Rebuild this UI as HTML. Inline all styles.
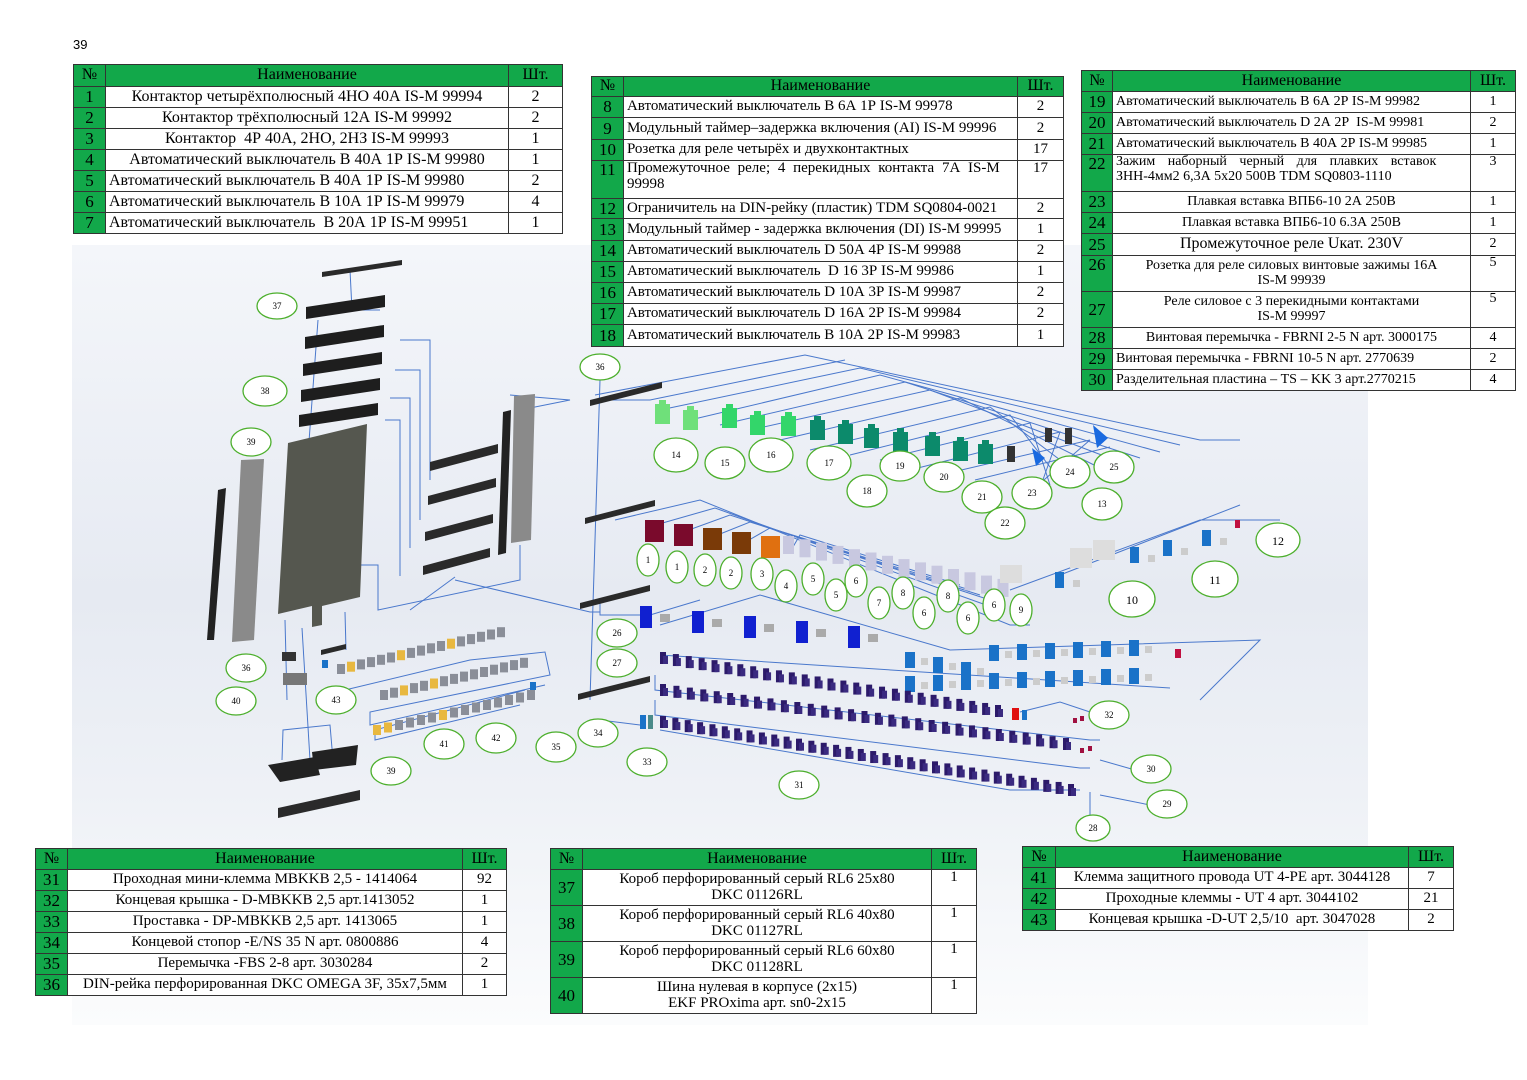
<!DOCTYPE html>
<html><head><meta charset="utf-8"><style>
*{margin:0;padding:0;box-sizing:border-box}
body{width:1527px;height:1080px;background:#fff;position:relative;overflow:hidden;font-family:"Liberation Serif",serif;color:#000}
.bg{position:absolute;left:72px;top:245px;width:1296px;height:780px;background:linear-gradient(180deg,#f4f6fa 0%,#e6eaf2 45%,#eef1f6 70%,#fbfcfd 100%)}
table{position:absolute;border-collapse:collapse;background:#fff;font-size:15px;line-height:1.05}
td{border:1px solid #333;text-align:center;vertical-align:middle;padding:0 3px}
td.n{background:#12a84a;font-size:17px;padding:0}
tr.h td{background:#12a84a;font-size:16px}
td.l{text-align:left}
svg{position:absolute;left:0;top:0}
</style></head><body>
<div class="bg"></div>
<div style="position:absolute;left:73px;top:37px;font-size:13px;font-family:'Liberation Sans',sans-serif">39</div>

<table style="left:73px;top:64px;width:490px;font-size:16px">
<colgroup><col style="width:32px"><col style="width:404px"><col style="width:54px"></colgroup>
<tr class="h" style="height:22px"><td>№</td><td>Наименование</td><td>Шт.</td></tr>
<tr style="height:21px"><td class="n">1</td><td>Контактор четырёхполюсный 4НО 40А IS-M 99994</td><td>2</td></tr>
<tr style="height:21px"><td class="n">2</td><td>Контактор трёхполюсный 12А IS-M 99992</td><td>2</td></tr>
<tr style="height:21px"><td class="n">3</td><td>Контактор &nbsp;4Р 40А, 2НО, 2НЗ IS-M 99993</td><td>1</td></tr>
<tr style="height:21px"><td class="n">4</td><td>Автоматический выключатель В 40А 1Р IS-M 99980</td><td>1</td></tr>
<tr style="height:21px"><td class="n">5</td><td class="l">Автоматический выключатель В 40А 1Р IS-M 99980</td><td>2</td></tr>
<tr style="height:21px"><td class="n">6</td><td class="l">Автоматический выключатель В 10А 1Р IS-M 99979</td><td>4</td></tr>
<tr style="height:21px"><td class="n">7</td><td class="l">Автоматический выключатель &nbsp;В 20А 1Р IS-M 99951</td><td>1</td></tr>
</table>

<table style="left:591px;top:76px;width:473px">
<colgroup><col style="width:32px"><col style="width:395px"><col style="width:46px"></colgroup>
<tr class="h" style="height:20px"><td>№</td><td>Наименование</td><td>Шт.</td></tr>
<tr style="height:21px"><td class="n">8</td><td class="l">Автоматический выключатель В 6А 1Р IS-M 99978</td><td>2</td></tr>
<tr style="height:22px"><td class="n">9</td><td class="l">Модульный таймер–задержка включения (AI) IS-M 99996</td><td>2</td></tr>
<tr style="height:21px"><td class="n">10</td><td class="l">Розетка для реле четырёх и двухконтактных</td><td>17</td></tr>
<tr style="height:38px"><td class="n" style="vertical-align:top">11</td><td class="l" style="vertical-align:top;word-spacing:4px">Промежуточное реле; 4 перекидных контакта 7А IS-M<br>99998</td><td style="vertical-align:top">17</td></tr>
<tr style="height:20px"><td class="n">12</td><td class="l">Ограничитель на DIN-рейку (пластик) TDM SQ0804-0021</td><td>2</td></tr>
<tr style="height:22px"><td class="n">13</td><td class="l">Модульный таймер - задержка включения (DI) IS-M 99995</td><td>1</td></tr>
<tr style="height:21px"><td class="n">14</td><td class="l">Автоматический выключатель D 50А 4Р IS-M 99988</td><td>2</td></tr>
<tr style="height:21px"><td class="n">15</td><td class="l">Автоматический выключатель &nbsp;D 16 3Р IS-M 99986</td><td>1</td></tr>
<tr style="height:21px"><td class="n">16</td><td class="l">Автоматический выключатель D 10А 3Р IS-M 99987</td><td>2</td></tr>
<tr style="height:21px"><td class="n">17</td><td class="l">Автоматический выключатель D 16А 2Р IS-M 99984</td><td>2</td></tr>
<tr style="height:22px"><td class="n">18</td><td class="l">Автоматический выключатель В 10А 2Р IS-M 99983</td><td>1</td></tr>
</table>

<table style="left:1081px;top:70px;width:435px;font-size:14px">
<colgroup><col style="width:31px"><col style="width:359px"><col style="width:45px"></colgroup>
<tr class="h" style="height:21px"><td>№</td><td>Наименование</td><td>Шт.</td></tr>
<tr style="height:21px"><td class="n">19</td><td class="l">Автоматический выключатель В 6А 2Р IS-M 99982</td><td>1</td></tr>
<tr style="height:21px"><td class="n">20</td><td class="l">Автоматический выключатель D 2А 2Р &nbsp;IS-M 99981</td><td>2</td></tr>
<tr style="height:21px"><td class="n">21</td><td class="l">Автоматический выключатель В 40А 2Р IS-M 99985</td><td>1</td></tr>
<tr style="height:37px"><td class="n" style="vertical-align:top">22</td><td class="l" style="vertical-align:top;word-spacing:9px">Зажим наборный черный для плавких вставок<br><span style="word-spacing:0">ЗНН-4мм2 6,3А 5х20 500В TDM SQ0803-1110</span></td><td style="vertical-align:top">3</td></tr>
<tr style="height:21px"><td class="n">23</td><td>Плавкая вставка ВПБ6-10 2А 250В</td><td>1</td></tr>
<tr style="height:21px"><td class="n">24</td><td>Плавкая вставка ВПБ6-10 6.3А 250В</td><td>1</td></tr>
<tr style="height:22px"><td class="n">25</td><td style="font-size:16px">Промежуточное реле Uкат. 230V</td><td>2</td></tr>
<tr style="height:36px"><td class="n" style="vertical-align:top">26</td><td>Розетка для реле силовых винтовые зажимы 16А<br>IS-M 99939</td><td style="vertical-align:top">5</td></tr>
<tr style="height:36px"><td class="n">27</td><td>Реле силовое с 3 перекидными контактами<br>IS-M 99997</td><td style="vertical-align:top">5</td></tr>
<tr style="height:21px"><td class="n">28</td><td>Винтовая перемычка - FBRNI 2-5 N арт. 3000175</td><td>4</td></tr>
<tr style="height:21px"><td class="n">29</td><td class="l">Винтовая перемычка - FBRNI 10-5 N арт. 2770639</td><td>2</td></tr>
<tr style="height:21px"><td class="n">30</td><td class="l">Разделительная пластина – TS – KK 3 арт.2770215</td><td>4</td></tr>
</table>

<table style="left:35px;top:848px;width:472px">
<colgroup><col style="width:32px"><col style="width:396px"><col style="width:44px"></colgroup>
<tr class="h" style="height:21px"><td>№</td><td>Наименование</td><td>Шт.</td></tr>
<tr style="height:21px"><td class="n">31</td><td>Проходная мини-клемма MBKKB 2,5 - 1414064</td><td>92</td></tr>
<tr style="height:21px"><td class="n">32</td><td>Концевая крышка - D-MBKKB 2,5 арт.1413052</td><td>1</td></tr>
<tr style="height:21px"><td class="n">33</td><td>Проставка - DP-MBKKB 2,5 арт. 1413065</td><td>1</td></tr>
<tr style="height:21px"><td class="n">34</td><td>Концевой стопор -E/NS 35 N арт. 0800886</td><td>4</td></tr>
<tr style="height:21px"><td class="n">35</td><td>Перемычка -FBS 2-8 арт. 3030284</td><td>2</td></tr>
<tr style="height:21px"><td class="n">36</td><td>DIN-рейка перфорированная DKC OMEGA 3F, 35х7,5мм</td><td>1</td></tr>
</table>

<table style="left:550px;top:848px;width:427px">
<colgroup><col style="width:32px"><col style="width:350px"><col style="width:45px"></colgroup>
<tr class="h" style="height:21px"><td>№</td><td>Наименование</td><td>Шт.</td></tr>
<tr style="height:36px"><td class="n">37</td><td>Короб перфорированный серый RL6 25х80<br>DKC 01126RL</td><td style="vertical-align:top">1</td></tr>
<tr style="height:36px"><td class="n">38</td><td>Короб перфорированный серый RL6 40х80<br>DKC 01127RL</td><td style="vertical-align:top">1</td></tr>
<tr style="height:36px"><td class="n">39</td><td>Короб перфорированный серый RL6 60х80<br>DKC 01128RL</td><td style="vertical-align:top">1</td></tr>
<tr style="height:36px"><td class="n">40</td><td>Шина нулевая в корпусе (2х15)<br>EKF PROxima арт. sn0-2х15</td><td style="vertical-align:top">1</td></tr>
</table>

<table style="left:1022px;top:846px;width:432px">
<colgroup><col style="width:33px"><col style="width:354px"><col style="width:45px"></colgroup>
<tr class="h" style="height:21px"><td>№</td><td>Наименование</td><td>Шт.</td></tr>
<tr style="height:21px"><td class="n">41</td><td>Клемма защитного провода UT 4-PE арт. 3044128</td><td>7</td></tr>
<tr style="height:21px"><td class="n">42</td><td>Проходные клеммы - UT 4 арт. 3044102</td><td>21</td></tr>
<tr style="height:21px"><td class="n">43</td><td>Концевая крышка -D-UT 2,5/10 &nbsp;арт. 3047028</td><td>2</td></tr>
</table>

<svg width="1527" height="1080" viewBox="0 0 1527 1080" id="d">
<g stroke="#4a78cc" stroke-width="1" fill="none">
<polyline points="350,270 352,310 380,310"/>
<polyline points="400,340 430,340 430,480"/>
<polyline points="395,370 420,370 420,520"/>
<polyline points="390,398 410,398 410,548"/>
<polyline points="385,420 400,420 400,576"/>
<line x1="318" y1="320" x2="308" y2="455"/>
<polyline points="355,565 378,565 378,610 520,580 520,545"/>
<polyline points="455,577 410,610"/>
<polyline points="455,580 590,612 600,612"/>
<line x1="600" y1="380" x2="590" y2="700"/>
<polyline points="510,395 570,400 520,410"/>
<polyline points="285,620 287,700"/>
<polyline points="302,628 310,760"/>
<polyline points="345,612 346,650"/>
<polyline points="282,760 283,730 330,725 333,760"/>
<polyline points="595,395 805,355 1200,440 1240,440"/>
<polyline points="610,400 650,400 845,360"/>
<polyline points="660,410 860,368 1180,445"/>
<polyline points="690,420 880,375 1160,452"/>
<polyline points="720,425 905,382 1140,458"/>
<polyline points="750,430 930,390 1120,462"/>
<polyline points="780,440 960,398 1100,468"/>
<polyline points="810,450 990,407 1080,475"/>
<polyline points="850,455 1010,415 1060,480"/>
<polyline points="880,460 1030,423 1050,485"/>
<polyline points="910,470 1060,432 1040,488"/>
<polyline points="940,475 1090,440 1030,492"/>
<polyline points="975,480 1110,447"/>
<polyline points="615,520 700,500 1010,625 1030,625"/>
<polyline points="645,528 715,508 1000,610"/>
<polyline points="675,535 730,515 990,600"/>
<polyline points="705,540 750,522 980,595"/>
<polyline points="735,548 770,528 970,590"/>
<polyline points="790,552 800,535 960,585"/>
<polyline points="1010,590 1200,520 1280,520"/>
<polyline points="1060,575 1240,505"/>
<polyline points="600,600 600,615 650,615 700,600"/>
<polyline points="660,625 760,595 950,650 1260,640 1200,700"/>
<polyline points="660,655 1170,688"/>
<polyline points="655,675 655,690 1090,740 1100,740"/>
<polyline points="655,700 655,715 1080,768 1090,768"/>
<polyline points="660,730 1010,790 1080,790"/>
<polyline points="1020,712 1060,702 1090,712"/>
<polyline points="1100,760 1135,770"/>
<polyline points="1100,795 1150,805"/>
<polyline points="1090,792 1090,815"/>
<line x1="640" y1="725" x2="600" y2="720"/>
<polyline points="345,690 470,660 545,652 550,675 370,712 370,725 545,685"/>
<polyline points="525,690 375,730 375,740 520,705"/>
</g>
<g id="comp"></g>
<g fill="#fff" stroke="#4caf2c" stroke-width="1.3">
<ellipse cx="277" cy="306" rx="20" ry="13"/><ellipse cx="265" cy="391" rx="22" ry="15"/><ellipse cx="251" cy="442" rx="20" ry="14"/><ellipse cx="600" cy="367" rx="20" ry="13"/>
<ellipse cx="676" cy="455" rx="22" ry="17"/><ellipse cx="725" cy="463" rx="20" ry="16"/><ellipse cx="771" cy="455" rx="22" ry="17"/><ellipse cx="829" cy="463" rx="22" ry="17"/><ellipse cx="867" cy="491" rx="20" ry="16"/><ellipse cx="900" cy="466" rx="20" ry="15"/><ellipse cx="944" cy="477" rx="20" ry="15"/><ellipse cx="982" cy="497" rx="20" ry="16"/><ellipse cx="1005" cy="523" rx="20" ry="16"/><ellipse cx="1032" cy="493" rx="20" ry="16"/><ellipse cx="1070" cy="472" rx="20" ry="16"/><ellipse cx="1114" cy="467" rx="20" ry="16"/><ellipse cx="1102" cy="504" rx="20" ry="16"/><ellipse cx="1278" cy="540" rx="22" ry="17"/><ellipse cx="1215" cy="579" rx="23" ry="18"/><ellipse cx="1132" cy="599" rx="23" ry="18"/>
<ellipse cx="648" cy="560" rx="11" ry="16"/><ellipse cx="677" cy="567" rx="11" ry="16"/><ellipse cx="705" cy="570" rx="11" ry="16"/><ellipse cx="731" cy="573" rx="11" ry="16"/><ellipse cx="762" cy="574" rx="11" ry="16"/><ellipse cx="786" cy="586" rx="11" ry="16"/><ellipse cx="813" cy="579" rx="11" ry="16"/><ellipse cx="836" cy="595" rx="11" ry="16"/><ellipse cx="856" cy="581" rx="11" ry="16"/><ellipse cx="879" cy="603" rx="11" ry="16"/><ellipse cx="903" cy="593" rx="11" ry="16"/><ellipse cx="924" cy="613" rx="11" ry="16"/><ellipse cx="948" cy="596" rx="11" ry="16"/><ellipse cx="968" cy="618" rx="11" ry="16"/><ellipse cx="994" cy="605" rx="11" ry="16"/><ellipse cx="1021" cy="610" rx="11" ry="16"/>
<ellipse cx="617" cy="633" rx="20" ry="14"/><ellipse cx="617" cy="663" rx="20" ry="14"/><ellipse cx="246" cy="668" rx="20" ry="14"/><ellipse cx="236" cy="701" rx="20" ry="14"/><ellipse cx="336" cy="700" rx="20" ry="14"/><ellipse cx="444" cy="744" rx="20" ry="15"/><ellipse cx="496" cy="738" rx="20" ry="15"/><ellipse cx="556" cy="747" rx="20" ry="15"/><ellipse cx="598" cy="733" rx="20" ry="14"/><ellipse cx="647" cy="762" rx="20" ry="14"/><ellipse cx="799" cy="785" rx="20" ry="14"/><ellipse cx="1109" cy="715" rx="20" ry="14"/><ellipse cx="1151" cy="769" rx="20" ry="14"/><ellipse cx="1167" cy="804" rx="20" ry="14"/><ellipse cx="1093" cy="828" rx="17" ry="13"/><ellipse cx="391" cy="771" rx="20" ry="14"/>
</g>
<g fill="#000" font-family="Liberation Serif,serif" font-size="9" text-anchor="middle">
<text x="277" y="309">37</text><text x="265" y="394">38</text><text x="251" y="445">39</text><text x="600" y="370">36</text>
<text x="676" y="458">14</text><text x="725" y="466">15</text><text x="771" y="458">16</text><text x="829" y="466">17</text><text x="867" y="494">18</text><text x="900" y="469">19</text><text x="944" y="480">20</text><text x="982" y="500">21</text><text x="1005" y="526">22</text><text x="1032" y="496">23</text><text x="1070" y="475">24</text><text x="1114" y="470">25</text><text x="1102" y="507">13</text>
<text x="1278" y="545" font-size="12">12</text><text x="1215" y="584" font-size="12">11</text><text x="1132" y="604" font-size="12">10</text>
<text x="648" y="563">1</text><text x="677" y="570">1</text><text x="705" y="573">2</text><text x="731" y="576">2</text><text x="762" y="577">3</text><text x="786" y="589">4</text><text x="813" y="582">5</text><text x="836" y="598">5</text><text x="856" y="584">6</text><text x="879" y="606">7</text><text x="903" y="596">8</text><text x="924" y="616">6</text><text x="948" y="599">8</text><text x="968" y="621">6</text><text x="994" y="608">6</text><text x="1021" y="613">9</text>
<text x="617" y="636">26</text><text x="617" y="666">27</text><text x="246" y="671">36</text><text x="236" y="704">40</text><text x="336" y="703">43</text><text x="444" y="747">41</text><text x="496" y="741">42</text><text x="556" y="750">35</text><text x="598" y="736">34</text><text x="647" y="765">33</text><text x="799" y="788">31</text><text x="1109" y="718">32</text><text x="1151" y="772">30</text><text x="1167" y="807">29</text><text x="1093" y="831">28</text><text x="391" y="774">39</text>
</g>
</svg>
<script>
(function(){
var g=document.getElementById('comp'),h='';
function P(pts,f){h+='<polygon points="'+pts+'" fill="'+f+'"/>';}
function R(x,y,w,hh,f){h+='<rect x="'+x+'" y="'+y+'" width="'+w+'" height="'+hh+'" fill="'+f+'"/>';}
function rail(x1,y1,x2,y2,t,f){P(x1+','+y1+' '+x2+','+y2+' '+x2+','+(y2+t)+' '+x1+','+(y1+t),f||'#2a2a2a');}
rail(322,272,402,260,5);
[[306,307,385,295],[305,337,384,325],[303,364,382,352],[301,390,380,378],[299,415,378,403]].forEach(function(a){rail(a[0],a[1],a[2],a[3],12,'#1e1e1e');});
[[430,462,498,444],[428,496,496,478],[425,532,493,514],[423,566,490,548]].forEach(function(a){rail(a[0],a[1],a[2],a[3],9);});
P('288,443 367,424 360,597 322,606 322,625 312,627 312,606 278,614','#55574f');
P('514,396 535,394 531,540 511,543','#8a8a8a');P('503,412 511,410 506,553 498,555','#222');
P('241,460 264,459 254,640 232,642','#8a8a8a');P('218,490 226,488 214,640 207,640','#222');
P('268,765 315,757 320,775 280,782','#222');P('312,752 358,745 356,765 314,770','#222');rail(278,808,360,790,10);
R(282,652,14,9,'#333');R(283,673,24,12,'#777');rail(321,650,346,644,5);
rail(590,400,662,382,6);rail(585,518,655,500,6);rail(580,603,650,585,6);rail(578,694,650,676,6);
var cols=['#6fe07a','#6fe07a','#33d66a','#33d66a','#33d66a','#0c8a6b','#0c8a6b','#0c8a6b','#0c8a6b','#0c8a6b','#0c8a6b','#0c8a6b'];
var pos=[[655,404],[683,410],[722,408],[750,415],[781,416],[810,420],[838,424],[864,428],[893,432],[925,436],[953,441],[978,444]];
pos.forEach(function(p,i){R(p[0],p[1],15,20,cols[i]);R(p[0]+4,p[1]-4,7,6,cols[i]);});
R(1007,446,8,16,'#333');R(1065,428,7,16,'#333');R(1045,428,7,14,'#333');
P('1032,448 1045,458 1036,466','#1a6ae0');P('1093,425 1108,438 1097,448','#1a6ae0');
var c2=['#7a0a2c','#7a0a2c','#7a3a08','#7a3a08','#e07010'];
for(var i=0;i<5;i++){R(645+i*29,520+i*4,19,22,c2[i]);}
for(var i=0;i<14;i++){R(783+i*16.5,536+i*3.3,11,18,'#c8c8e0');}
R(1000,565,22,18,'#ddd');R(1070,548,22,20,'#ddd');R(1093,540,22,20,'#ddd');
[[1055,572],[1130,547],[1163,540],[1202,530]].forEach(function(p){R(p[0],p[1],9,16,'#1a72c8');R(p[0]+18,p[1]+8,7,7,'#ccc');});
R(1235,520,5,8,'#c01040');
for(var i=0;i<5;i++){R(640+i*52,606+i*5,12,22,'#1020d0');R(660+i*52,614+i*5,10,8,'#aaa');}
for(var r=0;r<2;r++)for(var i=0;i<9;i++){var x=905+i*28,y=648+r*28-(i*1);if(r==0&&i<3)y=652+i*5;R(x,y,10,16,'#1a72c8');R(x+16,y+6,7,7,'#ccc');}
R(1175,649,6,9,'#c01040');
function row(x1,y1,x2,y2,n){for(var i=0;i<n;i++){var x=x1+(x2-x1)*i/(n-1),y=y1+(y2-y1)*i/(n-1);R(x,y,6,12,'#2c1a6a');R(x+3,y+4,5,8,'#3a2a80');}}
row(660,652,995,705,27);row(660,684,1063,738,31);row(660,716,1068,784,34);
R(1012,708,7,12,'#e01010');R(1022,710,5,10,'#1a72c8');R(640,715,6,14,'#1a72c8');R(648,715,5,14,'#4a8a8a');
R(1073,718,4,5,'#a01040');R(1080,716,4,5,'#a01040');R(1080,748,4,5,'#a01040');R(1088,746,4,5,'#a01040');
for(var i=0;i<17;i++){var c=(i==1||i==6||i==11)?'#e8b840':'#8a8e98';R(337+i*10,664-i*2.3,8,10,c);}
for(var i=0;i<15;i++){var c=(i==2||i==5)?'#e8b840':'#8a8e98';R(380+i*10,690-i*2.3,8,10,c);}
for(var i=0;i<15;i++){var c=(i==0||i==1||i==6)?'#e8b840':'#8a8e98';R(373+i*11,725-i*2.5,8,10,c);}
R(322,660,6,8,'#1a72c8');R(530,682,6,8,'#1a72c8');
g.innerHTML=h;
})();
</script>
</body></html>
